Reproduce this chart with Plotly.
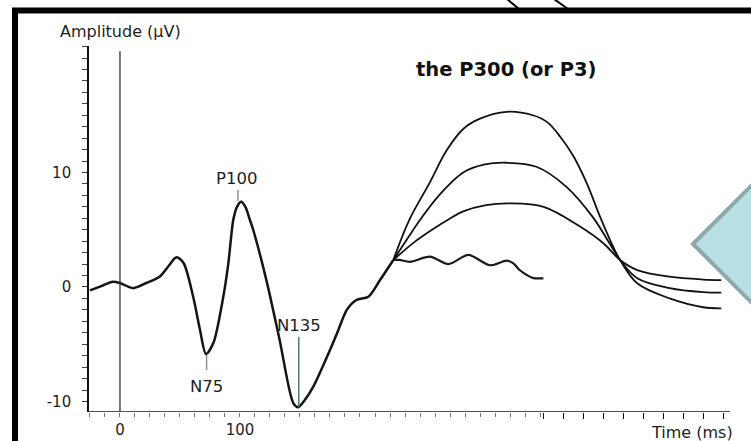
import numpy as np
import plotly.graph_objects as go

# ---------------- data (time in ms, amplitude in µV) ----------------
common_t = [-25, -15, -6, 0, 11, 22, 33, 41, 47, 53, 61, 66.7, 71.7, 77.8, 86.1, 90.3,
            94.4, 97.5, 101, 104.5, 108.3, 111, 122, 133, 144.5, 148.6, 154, 161.1,
            175, 182, 189, 197, 207, 216.7, 227.8]
common_v = [-0.3, 0.1, 0.46, 0.35, -0.1, 0.35, 0.9, 1.9, 2.6, 2.1, -0.85, -3.75, -5.85,
            -4.9, -0.85, 2.07, 5.85, 7.0, 7.45, 7.0, 5.85, 5.0, 0.6, -4.6, -10.16, -10.5,
            -9.87, -8.7, -5.5, -3.75, -2.0, -1.14, -0.85, 0.61, 2.36]

# standard (no P300) continuation
wave_t = [227.8, 233, 241.7, 258.3, 273.6, 290.3, 308.3, 322.3, 327.8, 333, 339, 344.4, 352.8]
wave_v = [2.36, 2.36, 2.2, 2.65, 2.0, 2.8, 1.9, 2.3, 2.07, 1.48, 1.05, 0.78, 0.76]

# P300 variants (large, medium, small)
p3_large_t = [227.8, 241, 258, 272, 286, 300, 322, 344, 356, 367, 378, 389, 400, 411,
              416.7, 431, 458, 486, 501]
p3_large_v = [2.36, 5.85, 9.1, 11.9, 13.8, 14.7, 15.3, 15.0, 14.4, 13.1, 11.4, 9.05, 6.15,
              3.5, 2.36, 0.32, -1.0, -1.77, -1.86]
p3_mid_t = [227.8, 240, 250, 265, 286, 304, 322, 347, 372, 394, 408, 416.7, 431, 458, 486, 501]
p3_mid_v = [2.36, 4.3, 5.85, 7.9, 10.0, 10.7, 10.85, 10.5, 8.75, 6.1, 3.8, 2.36, 0.76,
            -0.1, -0.45, -0.5]
p3_small_t = [227.8, 245, 260, 273, 286, 305, 325, 353, 383, 403, 416.7, 431, 458, 486, 501]
p3_small_v = [2.36, 3.9, 5.0, 5.85, 6.6, 7.15, 7.3, 7.0, 5.3, 3.8, 2.36, 1.48, 0.9, 0.65, 0.6]

# labelled peaks: name, latency, label position, marker line (top, bottom)
peak_names = ["P100", "N75", "N135"]
peak_lat = [98.3, 72.2, 149]
peak_label_t = [96.7, 72.5, 149]
peak_label_v = [9.5, -8.65, -3.4]
peak_line_v0 = [7.5, -5.94, -4.37]
peak_line_v1 = [8.47, -7.25, -10.5]
peak_line_col = ["#8a8a8a", "#8a8a8a", "#4d6b6b"]

y_tick_vals = [-10, 0, 10]
y_tick_text = ["-10", "0", "10"]
y_minor_vals = list(range(-10, 22))
x_label_vals = [0, 100]
x_left_ticks = list(np.arange(-25, 352, 12.5))
x_right_ticks = list(np.arange(352.8, 505, 16.67))

# ---------------- layout geometry ----------------
W, H = 751, 441
ML, MR, MT, MB = 89, 21, 46, 29
X_RANGE = [-25.8, 508.3]
Y_RANGE = [-10.92, 21.05]
FONT = "DejaVu Sans"


def pxx(x):
    return (x - ML) / (W - ML - MR)


def pxy(y):
    return (H - MB - y) / (H - MT - MB)


fig = go.Figure()
line_kw = dict(shape="spline", smoothing=0.8)
fig.add_trace(go.Scatter(x=common_t, y=common_v, mode="lines",
                         line=dict(color="#141414", width=2.5, **line_kw), hoverinfo="skip"))
fig.add_trace(go.Scatter(x=wave_t, y=wave_v, mode="lines",
                         line=dict(color="#1a1a1a", width=2.2, **line_kw), hoverinfo="skip"))
for tt, vv in [(p3_large_t, p3_large_v), (p3_mid_t, p3_mid_v), (p3_small_t, p3_small_v)]:
    fig.add_trace(go.Scatter(x=tt, y=vv, mode="lines",
                             line=dict(color="#111111", width=1.8, shape="spline", smoothing=1.0),
                             hoverinfo="skip"))

shapes = []
# x axis line: green part and black part
shapes.append(dict(type="line", xref="x", yref="y", x0=X_RANGE[0], x1=352.8,
                   y0=Y_RANGE[0], y1=Y_RANGE[0], line=dict(color="#3b5e3b", width=2)))
shapes.append(dict(type="line", xref="x", yref="y", x0=352.8, x1=X_RANGE[1],
                   y0=Y_RANGE[0], y1=Y_RANGE[0], line=dict(color="#111111", width=1.6)))
# stimulus onset line
shapes.append(dict(type="line", xref="x", yref="y", x0=0, x1=0, y0=Y_RANGE[0], y1=20.6,
                   line=dict(color="#333333", width=1.3)))
# peak marker lines
for lat, a, b, c in zip(peak_lat, peak_line_v0, peak_line_v1, peak_line_col):
    shapes.append(dict(type="line", xref="x", yref="y", x0=lat, x1=lat, y0=a, y1=b,
                       line=dict(color=c, width=1.4)))
# frame
shapes.append(dict(type="rect", xref="paper", yref="paper", x0=pxx(15), y0=pxy(10.5),
                   x1=pxx(820), y1=pxy(520), line=dict(color="#000000", width=6),
                   fillcolor="rgba(0,0,0,0)", layer="above"))
# stray strokes above frame
shapes.append(dict(type="line", xref="paper", yref="paper",
                   x0=pxx(507), y0=pxy(-1), x1=pxx(519), y1=pxy(9),
                   line=dict(color="#000000", width=2)))
shapes.append(dict(type="line", xref="paper", yref="paper",
                   x0=pxx(554), y0=pxy(-1), x1=pxx(568), y1=pxy(9),
                   line=dict(color="#000000", width=2)))
# light blue diamond on the right
d = 110
cx, cy = 693, 244
shapes.append(dict(type="path", xref="paper", yref="paper",
                   path=(f"M {pxx(cx)},{pxy(cy)} L {pxx(cx + d)},{pxy(cy - d)} "
                         f"L {pxx(cx + 2 * d)},{pxy(cy)} L {pxx(cx + d)},{pxy(cy + d)} Z"),
                   fillcolor="#b8dfe3", line=dict(color="#8ea9aa", width=4), layer="above"))

annotations = []
txt_col = "#1e1e1e"
ctr = dict(xanchor="center", yanchor="middle", showarrow=False)
for name, tt, vv in zip(peak_names, peak_label_t, peak_label_v):
    annotations.append(dict(x=tt, y=vv, xref="x", yref="y", text=name,
                            font=dict(family=FONT, size=16.5, color=txt_col), **ctr))
annotations.append(dict(x=pxx(120), y=pxy(31), xref="paper", yref="paper",
                        text="Amplitude (µV)",
                        font=dict(family=FONT, size=16, color=txt_col), **ctr))
annotations.append(dict(x=pxx(506), y=pxy(70), xref="paper", yref="paper",
                        text="<b>the P300 (or P3)</b>",
                        font=dict(family=FONT, size=19.5, color="#111111"), **ctr))
annotations.append(dict(x=pxx(692), y=pxy(432), xref="paper", yref="paper", text="Time (ms)",
                        font=dict(family=FONT, size=16, color=txt_col), **ctr))

fig.update_layout(
    width=W, height=H, margin=dict(l=ML, r=MR, t=MT, b=MB, autoexpand=False),
    paper_bgcolor="white", plot_bgcolor="white", showlegend=False,
    shapes=shapes, annotations=annotations,
    xaxis=dict(range=X_RANGE, showgrid=False, zeroline=False, showline=False,
               automargin=False,
               tickmode="array", tickvals=x_left_ticks,
               ticktext=[str(int(v)) if v in x_label_vals else "" for v in x_left_ticks],
               ticks="outside", ticklen=4, tickwidth=1.4, tickcolor="#5f7d5f",
               ticklabelstandoff=0,
               tickfont=dict(family=FONT, size=15, color=txt_col),
               minor=dict(tickmode="array", tickvals=x_right_ticks, ticks="outside",
                          ticklen=6, tickwidth=1.4, tickcolor="#111111")),
    yaxis=dict(range=Y_RANGE, showgrid=False, zeroline=False, showline=True,
               automargin=False,
               linecolor="#111111", linewidth=1.6,
               tickmode="array", tickvals=y_tick_vals, ticktext=y_tick_text,
               ticks="outside", ticklen=5, tickwidth=1.4, tickcolor="#333333",
               ticklabelstandoff=8,
               tickfont=dict(family=FONT, size=15, color=txt_col),
               minor=dict(tickmode="array", tickvals=y_minor_vals, ticks="outside",
                          ticklen=5, tickwidth=1.2, tickcolor="#444444")),
)

fig.write_html("out.html", config={"displayModeBar": False},
               post_script="document.body.style.margin='0';")
